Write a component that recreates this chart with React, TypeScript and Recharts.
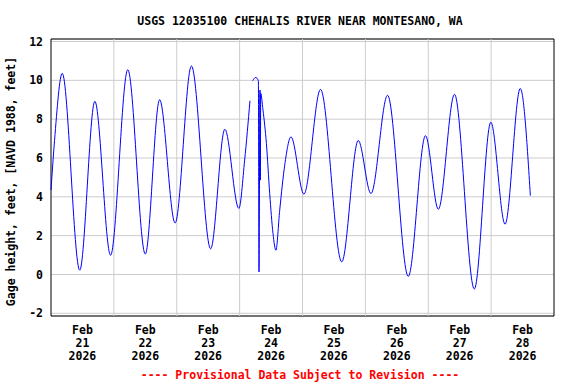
import React from 'react';
import { LineChart, Line, XAxis, YAxis, CartesianGrid, ReferenceLine, ReferenceArea } from 'recharts';

// hours since Feb 21 2026 00:00
const hours = [
  0, 1.35, 4.29, 10.97, 16.74, 22.74, 29.31, 35.99, 41.46, 47.38, 53.6, 60.94, 66.36, 71.71, 73.92, 75.95,
  76.5,
  76.98, 78.13, 79.16, 79.39, 79.77, 79.92, 80.04, 80.92, 82.22, 83.48, 84.74, 85.85, 87.3, 89.21, 91.61,
  96.54, 102.88, 110.98, 117.28, 122.13, 128.47, 136.38, 142.95, 147.84, 154.02, 161.59, 167.89, 173.32,
  179.12, 182.98,
];
// gage height, feet (null = missing record)
const gage: (number | null)[] = [
  4.35, 6.9, 10.36, 0.22, 8.92, 0.99, 10.55, 1.05, 9.0, 2.65, 10.74, 1.32, 7.48, 3.4, 5.89, 8.95,
  null,
  9.98, 10.15, 9.98, 0.13, 9.5, 4.86, 9.33, 8.47, 6.75, 4.17, 2.11, 1.25, 3.31, 5.63, 7.09,
  4.14, 9.53, 0.65, 6.9, 4.17, 9.23, -0.1, 7.15, 3.36, 9.28, -0.75, 7.84, 2.59,
  9.58, 4.06,
];

const dayLines = [24, 48, 72, 96, 120, 144, 168];
const labelHours = [12, 36, 60, 84, 108, 132, 156, 180];
const labelDays = ['21', '22', '23', '24', '25', '26', '27', '28'];
const labelMonth = 'Feb';
const labelYear = '2026';
const yTicks = [-2, 0, 2, 4, 6, 8, 10, 12];

const data = hours.map((h, i) => ({ h, v: gage[i] }));

const FONT = '"DejaVu Sans Mono", monospace';

const DateTick = (props: any) => {
  const { x, y, payload } = props;
  const idx = labelHours.indexOf(payload.value);
  return (
    <g fontFamily={FONT} fontWeight="bold" fontSize={11.5} fill="#000">
      <text x={x} y={y + 18} textAnchor="middle">{labelMonth}</text>
      <text x={x} y={y + 31} textAnchor="middle">{labelDays[idx]}</text>
      <text x={x} y={y + 43.5} textAnchor="middle">{labelYear}</text>
    </g>
  );
};

export default function App() {
  return (
    <div style={{ position: 'absolute', left: 0, top: 0, width: 576, height: 384, background: '#fff' }}>
      <LineChart width={576} height={384} data={data} margin={{ top: 39, right: 22, bottom: 0, left: 0 }}>
        <CartesianGrid vertical={false} stroke="#cccccc" strokeWidth={1} />
        {dayLines.map((d) => (
          <ReferenceLine key={d} x={d} stroke="#cccccc" strokeWidth={1} />
        ))}
        <XAxis
          dataKey="h"
          type="number"
          domain={[0, 192]}
          ticks={labelHours}
          axisLine={false}
          tickLine={false}
          tickSize={0}
          tickMargin={0}
          height={68}
          tick={<DateTick />}
          interval={0}
        />
        <YAxis
          type="number"
          domain={[-2.14, 12.13]}
          ticks={yTicks}
          axisLine={false}
          tickLine={false}
          tickSize={0}
          tickMargin={8}
          width={51}
          interval={0}
          tick={{ fontFamily: FONT, fontWeight: 'bold', fontSize: 11.5, fill: '#000' }}
        />
        <Line
          type="monotone"
          dataKey="v"
          stroke="#0000ff"
          strokeWidth={1}
          dot={false}
          connectNulls={false}
          isAnimationActive={false}
        />
        <ReferenceArea x1={0} x2={192} y1={-2.14} y2={12.13} fill="none" stroke="#000" strokeWidth={1} ifOverflow="visible" />
      </LineChart>
      <svg width={576} height={384} style={{ position: 'absolute', left: 0, top: 0, pointerEvents: 'none' }}>
        <g fontFamily={FONT} fontWeight="bold" fontSize={11.5}>
          <text x={300} y={25} textAnchor="middle" fill="#000">USGS 12035100 CHEHALIS RIVER NEAR MONTESANO, WA</text>
          <text x={15} y={181.5} textAnchor="middle" fill="#000" transform="rotate(-90 15 181.5)">
            Gage height, feet, [NAVD 1988, feet]
          </text>
          <text x={300} y={378.5} textAnchor="middle" fill="#ff0000">---- Provisional Data Subject to Revision ----</text>
        </g>
      </svg>
    </div>
  );
}
